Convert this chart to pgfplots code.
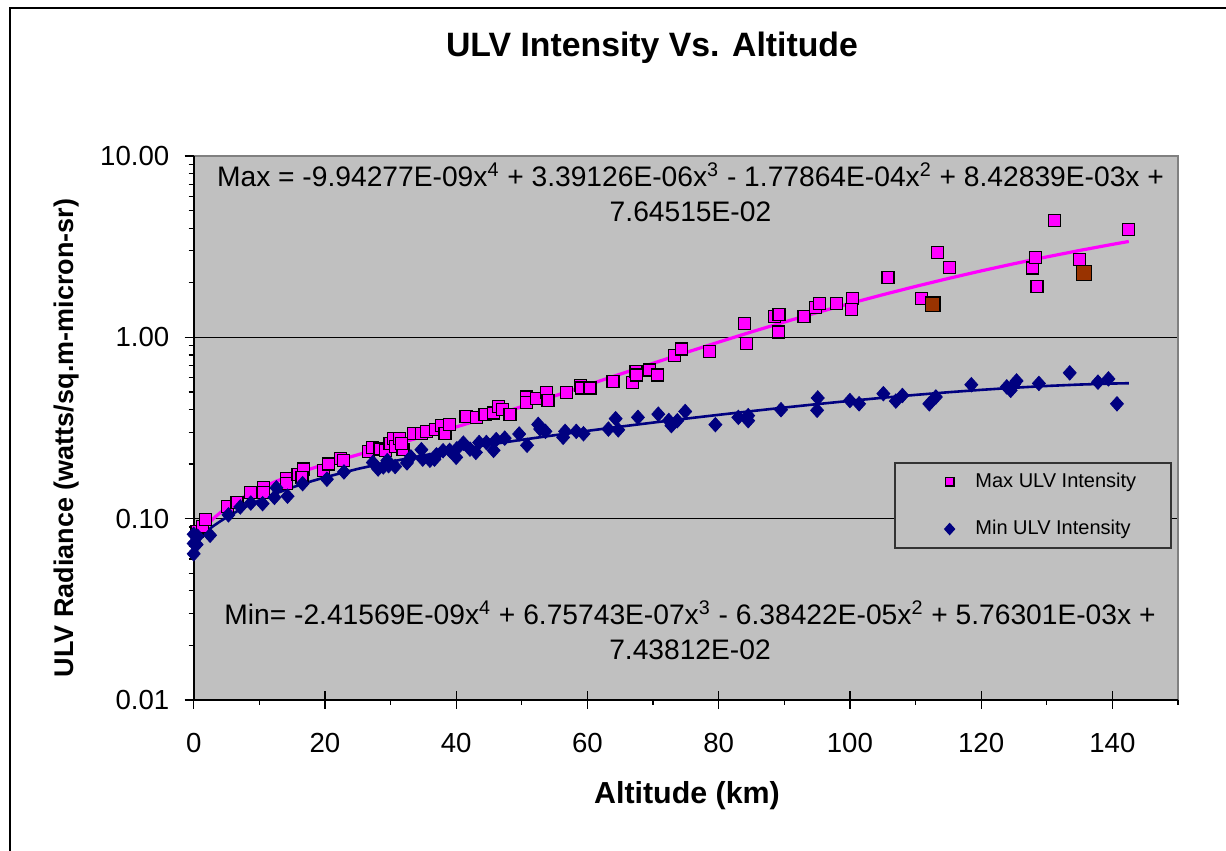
\documentclass[border=0pt]{standalone}
\usepackage{fontspec}
\setmainfont{Liberation Sans}
\usepackage{pgfplots}
\usepackage{pgfplotstable}
\pgfplotsset{compat=1.18}
\definecolor{plotgray}{HTML}{C0C0C0}
\definecolor{excelmag}{HTML}{FF00FF}
\definecolor{excelnavy}{HTML}{000080}
\definecolor{excelbrown}{HTML}{993300}
\definecolor{bordergray}{HTML}{808080}
\pgfplotsset{mylegimg/.style={legend image code/.code={\draw[##1] plot coordinates {(12pt,0pt)}; \path (0pt,0pt) (20pt,0pt);}}}

\pgfplotstableread{
x y
0.5 0.085
1.4 0.091
1.8 0.099
5.2 0.117
6.6 0.123
8.6 0.140
10.6 0.149
10.6 0.140
14.2 0.166
14.2 0.157
15.9 0.176
16.7 0.188
16.5 0.168
19.8 0.184
20.6 0.200
22.4 0.214
22.8 0.209
26.6 0.235
27.3 0.247
28.4 0.242
29.2 0.238
29.9 0.261
30.4 0.278
30.8 0.251
31.4 0.278
31.9 0.240
31.7 0.260
33.5 0.296
34.7 0.296
35.5 0.303
36.8 0.309
37.8 0.326
38.3 0.294
39.0 0.331
41.5 0.366
43.1 0.363
44.4 0.374
45.7 0.383
46.4 0.417
47.1 0.399
48.2 0.377
50.7 0.469
50.7 0.438
52.3 0.459
53.8 0.494
54.0 0.448
56.8 0.498
58.9 0.544
59.1 0.526
60.4 0.526
63.9 0.570
66.9 0.565
67.4 0.645
67.5 0.620
69.4 0.660
70.7 0.620
73.3 0.794
74.3 0.862
78.6 0.835
83.9 1.19
84.2 0.922
88.5 1.30
89.2 1.33
89.1 1.07
93.0 1.30
94.8 1.46
95.4 1.54
97.9 1.54
100.4 1.64
100.2 1.42
105.8 2.14
110.9 1.64
113.4 2.94
115.2 2.42
127.8 2.41
128.3 2.75
128.5 1.90
131.2 4.40
135.0 2.70
142.4 3.93
}\maxdata

\pgfplotstableread{
x y
112.6 1.52
135.7 2.27
}\browndata

\pgfplotstableread{
x y
0 0.064
0 0.073
0.45 0.072
0 0.082
0.6 0.080
2.5 0.081
5.3 0.105
7.1 0.116
8.7 0.122
10.5 0.121
12.3 0.131
12.6 0.148
14.3 0.133
16.6 0.156
20.3 0.165
22.9 0.181
27.3 0.204
28.1 0.188
28.9 0.193
29.5 0.209
29.7 0.196
30.7 0.194
32.5 0.203
33.1 0.219
34.7 0.240
34.9 0.213
36.0 0.210
36.7 0.213
37.0 0.225
38.0 0.237
39.0 0.238
40.0 0.218
40.1 0.243
41.1 0.261
42.1 0.242
43.0 0.232
43.5 0.263
44.6 0.263
45.7 0.238
46.1 0.273
47.4 0.278
49.6 0.293
50.8 0.254
52.5 0.331
52.8 0.312
53.6 0.303
56.3 0.281
56.6 0.303
58.3 0.303
59.4 0.294
63.2 0.312
64.3 0.356
64.7 0.309
67.7 0.362
70.8 0.377
72.4 0.348
72.8 0.326
73.7 0.347
74.9 0.390
79.5 0.330
83.0 0.362
84.5 0.370
84.5 0.347
89.5 0.399
95.1 0.463
95.0 0.396
100.0 0.448
101.4 0.430
105.1 0.489
107.0 0.445
108.0 0.478
112.1 0.430
113.1 0.469
118.5 0.548
123.9 0.533
124.5 0.510
125.0 0.550
125.4 0.575
128.8 0.557
133.5 0.637
137.8 0.566
139.4 0.590
140.7 0.430
}\mindata

\pgfplotstableread{
x y
0 0.07645
0.5 0.08062
1 0.08471
2 0.09262
3 0.10023
4 0.10753
5 0.11457
6 0.12134
8 0.13419
10 0.14624
12.5 0.16040
15 0.17380
17.5 0.18672
20 0.19941
25 0.22510
30 0.25274
35 0.28404
40 0.32059
45 0.36381
50 0.41498
55 0.47521
60 0.54550
65 0.62667
70 0.71938
75 0.82419
80 0.94146
85 1.07144
90 1.21419
95 1.36967
100 1.53763
105 1.71774
110 1.90946
115 2.11215
120 2.32498
125 2.54700
130 2.77707
135 3.01399
140 3.25630
142.5 3.37910
}\maxtrend

\pgfplotstableread{
x y
0 0.07438
0.5 0.07725
1 0.08008
2 0.08566
3 0.09111
4 0.09646
5 0.10168
6 0.10680
8 0.11674
10 0.12628
12.5 0.13770
15 0.14862
17.5 0.15908
20 0.16912
25 0.18817
30 0.20610
35 0.22323
40 0.23982
45 0.25611
50 0.27230
55 0.28855
60 0.30498
65 0.32170
70 0.33874
75 0.35614
80 0.37387
85 0.39187
90 0.41005
95 0.42830
100 0.44643
105 0.46427
110 0.48156
115 0.49803
120 0.51339
125 0.52726
130 0.53931
135 0.54907
140 0.55613
142.5 0.55850
}\mintrend

\begin{document}
\begin{tikzpicture}[x=0.5pt,y=0.5pt]
\path[use as bounding box] (0,0) rectangle (1226,851);
\draw[line width=1pt] (9.5,0) -- (9.5,843) -- (1226,843);
\node[font=\fontsize{16.9}{20}\selectfont\bfseries] at (652,803) {ULV Intensity Vs. Altitude};
\node[font=\fontsize{15.2}{18}\selectfont\bfseries] at (687,55) {Altitude (km)};
\node[font=\fontsize{13.5}{16}\selectfont\bfseries, rotate=90] at (67,413) {ULV Radiance (watts/sq.m-micron-sr)};
\begin{axis}[
  at={(96.85pt,75.5pt)}, anchor=south west, scale only axis,
  width=492.15pt, height=272pt,
  xmin=0, xmax=150, ymode=log, ymin=0.01, ymax=10,
  clip=false,
  axis line style={draw=none},
  axis background/.style={fill=plotgray},
  tick pos=left, tick align=outside,
  major tick length=4.5pt, minor tick length=2.5pt,
  tick style={black, line width=0.6pt},
  xtick={0,20,40,60,80,100,120,140},
  xticklabels={0,20,40,60,80,100,120,140},
  minor xtick={10,30,50,70,90,110,130,150},
  ytick={0.01,0.1,1,10},
  yticklabels={0.01,0.10,1.00,10.00},
  xticklabel style={font=\fontsize{13.8}{16}\selectfont, anchor=north, inner sep=0pt, yshift=-12pt},
  yticklabel style={font=\fontsize{13.8}{16}\selectfont, anchor=east, inner sep=0pt, xshift=-7.5pt},
  legend style={at={(rel axis cs:0.7115,0.4375)}, anchor=north west,
    draw=black!80, line width=0.8pt, fill=plotgray,
    font=\fontsize{10}{12}\selectfont,
    inner xsep=15pt, inner ysep=2.5pt, row sep=10pt, column sep=2pt,
    nodes={inner sep=2.5pt}},
  legend cell align=left,
]
\draw[black, line width=0.6pt] (axis cs:0,0.1) -- (axis cs:150,0.1);
\draw[black, line width=0.6pt] (axis cs:0,1) -- (axis cs:150,1);
\draw[bordergray, line width=1pt] (rel axis cs:0,1) -- (rel axis cs:1,1) -- (rel axis cs:1,0);
\draw[black, line width=0.8pt] (rel axis cs:0,1) -- (rel axis cs:0,0) -- (rel axis cs:1,0);
\pgfplotsinvokeforeach{0,20,40,60,80,100,120,140}{
  \draw[black, line width=0.6pt] (axis cs:#1,0.01) -- ++(0pt,4.5pt);
}
\addplot[only marks, mark=square*, mark size=3pt,
  mark options={fill=excelmag, draw=black, line width=0.6pt},
  mylegimg, legend image post style={mark size=2.2pt}]
  table[x=x,y=y]{\maxdata};
\addlegendentry{Max ULV Intensity}
\addplot[only marks, mark=diamond*, mark size=3.6pt,
  mark options={fill=excelnavy, draw=excelnavy, xscale=1.2},
  mylegimg, legend image post style={mark size=2.6pt}]
  table[x=x,y=y]{\mindata};
\addlegendentry{Min ULV Intensity}
\addplot[forget plot, only marks, mark=square*, mark size=3.7pt,
  mark options={fill=excelbrown, draw=black, line width=0.6pt}]
  table[x=x,y=y]{\browndata};
\addplot[forget plot, no marks, excelmag, line width=1.6pt] table[x=x,y=y]{\maxtrend};
\addplot[forget plot, no marks, excelnavy, line width=1.3pt] table[x=x,y=y]{\mintrend};
\end{axis}
\node[align=center, font=\fontsize{14.1}{17.5}\selectfont] at (690.5,659)
  {Max = -9.94277E-09x\textsuperscript{4} + 3.39126E-06x\textsuperscript{3} - 1.77864E-04x\textsuperscript{2} + 8.42839E-03x +\\7.64515E-02};
\node[align=center, font=\fontsize{14.1}{17.5}\selectfont] at (690,220.5)
  {Min= -2.41569E-09x\textsuperscript{4} + 6.75743E-07x\textsuperscript{3} - 6.38422E-05x\textsuperscript{2} + 5.76301E-03x +\\7.43812E-02};
\end{tikzpicture}
\end{document}
